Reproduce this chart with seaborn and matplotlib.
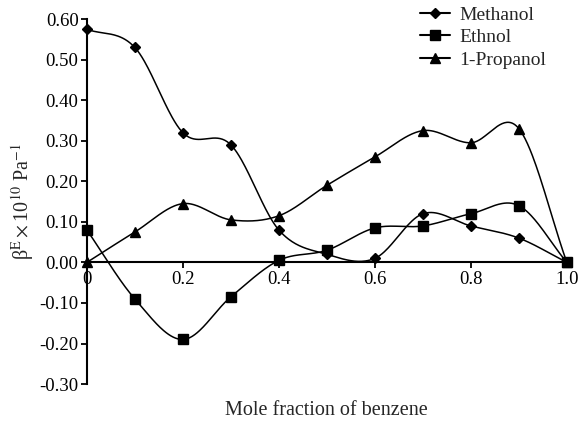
import numpy as np
import pandas as pd
import matplotlib
matplotlib.use("Agg")
import matplotlib.pyplot as plt
import seaborn as sns
from matplotlib.lines import Line2D

x_frac = [0.0, 0.1, 0.2, 0.3, 0.4, 0.5, 0.6, 0.7, 0.8, 0.9, 1.0]
methanol = [0.575, 0.53, 0.32, 0.29, 0.08, 0.02, 0.01, 0.12, 0.09, 0.06, 0.00]
ethnol = [0.08, -0.09, -0.19, -0.085, 0.005, 0.03, 0.085, 0.09, 0.12, 0.14, 0.00]
propanol = [0.0, 0.075, 0.145, 0.105, 0.115, 0.19, 0.26, 0.325, 0.295, 0.33, 0.00]
series_names = ["Methanol", "Ethnol", "1-Propanol"]
markers = ["D", "s", "^"]
msizes = [5, 6.5, 7]
xticks = [0.0, 0.2, 0.4, 0.6, 0.8, 1.0]
xticklabels = ["0", "0.2", "0.4", "0.6", "0.8", "1.0"]
yticks = [-0.30, -0.20, -0.10, 0.00, 0.10, 0.20, 0.30, 0.40, 0.50, 0.60]
yticklabels = ["-0.30", "-0.20", "-0.10", "0.00", "0.10", "0.20", "0.30", "0.40", "0.50", "0.60"]


def smooth_curve(x, y, n=40):
    """Catmull-Rom (Hermite) smoothing through the data points, for drawing only."""
    x = np.asarray(x, float); y = np.asarray(y, float)
    N = len(x)
    m = np.zeros(N)
    m[1:-1] = (y[2:] - y[:-2]) / (x[2:] - x[:-2])
    m[0] = (y[1] - y[0]) / (x[1] - x[0])
    m[-1] = (y[-1] - y[-2]) / (x[-1] - x[-2])
    xs, ys = [], []
    for i in range(N - 1):
        h = x[i + 1] - x[i]
        t = np.linspace(0, 1, n, endpoint=(i == N - 2))
        h00 = 2 * t ** 3 - 3 * t ** 2 + 1
        h10 = t ** 3 - 2 * t ** 2 + t
        h01 = -2 * t ** 3 + 3 * t ** 2
        h11 = t ** 3 - t ** 2
        xs.extend(x[i] + t * h)
        ys.extend(h00 * y[i] + h10 * h * m[i] + h01 * y[i + 1] + h11 * h * m[i + 1])
    return np.array(xs), np.array(ys)


sns.set_style("white")
plt.rcParams["font.family"] = ["Liberation Serif", "DejaVu Serif"]
plt.rcParams["mathtext.fontset"] = "stix"

fig = plt.figure(figsize=(5.79, 4.34), dpi=100)
ax = fig.add_axes([0.150, 0.115, 0.829, 0.841])

handles = []
for name, vals, m, ms in zip(series_names, [methanol, ethnol, propanol], markers, msizes):
    sx, sy = smooth_curve(x_frac, vals)
    sns.lineplot(x=sx, y=sy, ax=ax, color="black", lw=1.1, sort=False, estimator=None)
    ax.plot(x_frac, vals, linestyle="none", marker=m, markersize=ms, color="black", clip_on=False, zorder=5)
    handles.append(Line2D([0], [0], color="black", lw=1.5, marker=m, markersize=ms))

ax.set_xlim(0, 1.0)
ax.set_ylim(-0.30, 0.60)
ax.spines["top"].set_visible(False)
ax.spines["right"].set_visible(False)
ax.spines["bottom"].set_position(("data", 0))
for s in ["left", "bottom"]:
    ax.spines[s].set_color("black")
    ax.spines[s].set_linewidth(1.5)
ax.set_xticks(xticks)
ax.set_xticklabels(xticklabels)
ax.set_yticks(yticks)
ax.set_yticklabels(yticklabels)
ax.tick_params(axis="both", direction="out", length=4, width=1.3, labelsize=13.5, colors="black",
               left=True, bottom=True, pad=2)
ax.set_xlabel("Mole fraction of benzene", fontsize=14.5)
ax.xaxis.set_label_coords(0.5, -0.045)
ax.set_ylabel(r"β$^{\mathrm{E}}\times$10$^{10}$ Pa$^{-1}$", fontsize=14.5)
ax.yaxis.set_label_coords(-0.105, 0.5)

fig.legend(handles, series_names, loc="upper left", bbox_to_anchor=(0.725, 0.986), frameon=False,
           fontsize=14, handlelength=1.55, labelspacing=0.25, handletextpad=0.5,
           borderpad=0, borderaxespad=0)

fig.savefig("out.png", dpi=100)
